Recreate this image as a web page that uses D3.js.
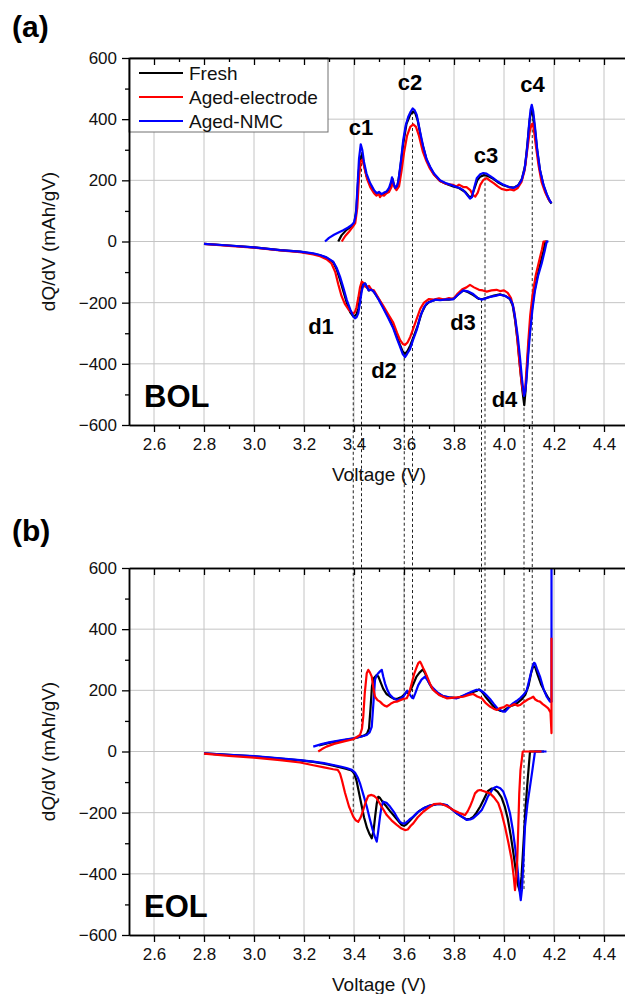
<!DOCTYPE html>
<html>
<head>
<meta charset="utf-8">
<script src="https://cdn.jsdelivr.net/npm/d3@7"></script>
<style>
  html, body { margin: 0; padding: 0; background: #fff; }
  svg { display: block; font-family: "Liberation Sans", Arial, Helvetica, sans-serif; }
</style>
</head>
<body>
<svg id="chart" width="625" height="994"></svg>
<script>
// ---- series names and colours ----
const seriesNames = ["Fresh", "Aged-electrode", "Aged-NMC"];
const seriesColors = ["#000000", "#ff0000", "#0000ff"];

// ---- axis ticks ----
const voltDomain = [2.5, 4.5];
const voltMajorTicks = [2.6, 2.8, 3.0, 3.2, 3.4, 3.6, 3.8, 4.0, 4.2, 4.4];
const voltMinorTicks = [2.7, 2.9, 3.1, 3.3, 3.5, 3.7, 3.9, 4.1, 4.3];
const dqDomain = [-600, 600];
const dqMajorTicks = [-600, -400, -200, 0, 200, 400, 600];
const dqMinorTicks = [-500, -300, -100, 100, 300, 500];

// ---- BOL: charge branch [V, dQ/dV] ----
const bolFreshCharge = [[3.337,0],[3.35,20],[3.37,38],[3.39,50],[3.402,62],[3.41,110],[3.418,220],[3.425,275],[3.432,282],[3.44,250],[3.45,215],[3.464,188],[3.48,165],[3.491,157],[3.51,153],[3.53,160],[3.54,170],[3.549,190],[3.554,205],[3.56,185],[3.567,172],[3.575,185],[3.585,240],[3.597,320],[3.61,385],[3.625,415],[3.636,425],[3.645,420],[3.655,395],[3.67,330],[3.69,268],[3.704,243],[3.72,220],[3.744,198],[3.77,188],[3.797,180],[3.82,175],[3.845,162],[3.86,147],[3.87,145],[3.88,170],[3.893,200],[3.905,212],[3.92,217],[3.935,214],[3.957,205],[3.975,194],[3.997,184],[4.02,178],[4.04,176],[4.058,185],[4.072,205],[4.085,250],[4.095,330],[4.103,400],[4.11,430],[4.116,415],[4.124,365],[4.133,295],[4.144,232],[4.158,183],[4.171,153],[4.182,133],[4.19,124]];
const bolElectrodeCharge = [[3.351,0],[3.365,18],[3.38,32],[3.395,48],[3.405,60],[3.413,110],[3.42,210],[3.427,262],[3.434,268],[3.442,240],[3.452,205],[3.465,178],[3.48,158],[3.49,150],[3.5,155],[3.504,145],[3.51,152],[3.52,150],[3.53,158],[3.54,162],[3.55,178],[3.556,195],[3.562,178],[3.57,168],[3.58,180],[3.59,230],[3.6,290],[3.612,345],[3.625,375],[3.637,383],[3.648,375],[3.66,345],[3.675,295],[3.69,262],[3.704,238],[3.72,218],[3.744,198],[3.77,188],[3.797,185],[3.81,180],[3.82,186],[3.837,178],[3.85,178],[3.865,168],[3.875,152],[3.885,147],[3.895,160],[3.905,185],[3.918,202],[3.931,207],[3.945,198],[3.96,190],[3.975,180],[3.99,172],[4.01,168],[4.025,170],[4.04,167],[4.055,175],[4.07,195],[4.083,235],[4.093,300],[4.103,360],[4.11,383],[4.115,386],[4.12,362],[4.128,310],[4.138,250],[4.15,195],[4.165,160],[4.178,138],[4.188,128]];
const bolNmcCharge = [[3.284,0],[3.3,12],[3.32,22],[3.34,30],[3.357,37],[3.375,45],[3.39,53],[3.4,62],[3.408,90],[3.414,180],[3.42,270],[3.427,318],[3.433,300],[3.44,260],[3.45,222],[3.464,192],[3.48,168],[3.491,158],[3.5,162],[3.51,155],[3.52,160],[3.53,163],[3.54,175],[3.548,195],[3.552,210],[3.558,190],[3.565,175],[3.572,182],[3.578,200],[3.588,265],[3.597,332],[3.607,380],[3.617,408],[3.627,425],[3.635,435],[3.642,430],[3.651,414],[3.664,360],[3.677,310],[3.69,270],[3.704,245],[3.72,222],[3.744,200],[3.77,190],[3.797,182],[3.82,176],[3.837,168],[3.85,155],[3.864,140],[3.872,145],[3.882,180],[3.891,207],[3.905,220],[3.917,224],[3.93,222],[3.945,214],[3.957,207],[3.975,196],[3.997,186],[4.015,180],[4.037,175],[4.055,182],[4.07,200],[4.082,235],[4.092,300],[4.1,380],[4.106,430],[4.111,447],[4.117,425],[4.124,375],[4.133,300],[4.144,234],[4.158,185],[4.171,155],[4.182,135],[4.19,125]];

// ---- BOL: discharge branch ----
const bolFreshDischarge = [[2.8,-8],[2.9,-13],[3.0,-19],[3.104,-28],[3.184,-33],[3.237,-40],[3.264,-45],[3.29,-53],[3.317,-68],[3.33,-90],[3.344,-125],[3.357,-162],[3.371,-200],[3.385,-232],[3.397,-245],[3.404,-243],[3.41,-238],[3.417,-220],[3.424,-185],[3.431,-155],[3.438,-138],[3.445,-138],[3.452,-150],[3.46,-160],[3.47,-157],[3.48,-165],[3.5,-190],[3.517,-215],[3.537,-245],[3.557,-280],[3.572,-312],[3.584,-338],[3.595,-360],[3.604,-368],[3.614,-358],[3.625,-340],[3.64,-308],[3.655,-275],[3.67,-235],[3.685,-210],[3.7,-198],[3.727,-190],[3.75,-190],[3.78,-190],[3.8,-186],[3.817,-173],[3.837,-160],[3.855,-165],[3.877,-175],[3.9,-188],[3.915,-188],[3.935,-183],[3.955,-178],[3.984,-173],[4.005,-178],[4.024,-188],[4.035,-210],[4.044,-255],[4.055,-330],[4.064,-410],[4.074,-490],[4.081,-535],[4.087,-480],[4.093,-400],[4.1,-320],[4.11,-235],[4.12,-170],[4.133,-115],[4.146,-70],[4.158,-30],[4.165,0],[4.175,0]];
const bolElectrodeDischarge = [[2.8,-8],[2.9,-14],[3.0,-20],[3.104,-29],[3.184,-35],[3.237,-42],[3.264,-48],[3.29,-58],[3.31,-72],[3.325,-100],[3.337,-140],[3.35,-178],[3.364,-205],[3.378,-222],[3.39,-232],[3.397,-236],[3.404,-230],[3.41,-215],[3.417,-185],[3.424,-150],[3.431,-131],[3.437,-135],[3.445,-148],[3.452,-150],[3.46,-145],[3.47,-158],[3.48,-160],[3.5,-188],[3.517,-210],[3.537,-238],[3.557,-265],[3.572,-298],[3.584,-322],[3.595,-335],[3.604,-338],[3.614,-330],[3.625,-312],[3.637,-285],[3.65,-255],[3.665,-220],[3.68,-200],[3.7,-188],[3.72,-190],[3.74,-186],[3.76,-190],[3.78,-185],[3.797,-188],[3.815,-170],[3.835,-155],[3.85,-150],[3.864,-142],[3.88,-150],[3.9,-158],[3.915,-160],[3.931,-164],[3.95,-160],[3.97,-158],[3.984,-162],[4.0,-160],[4.015,-168],[4.028,-185],[4.04,-225],[4.05,-290],[4.06,-380],[4.07,-460],[4.078,-500],[4.084,-490],[4.09,-420],[4.097,-330],[4.105,-240],[4.115,-170],[4.127,-110],[4.14,-65],[4.152,-25],[4.158,0],[4.17,0]];
const bolNmcDischarge = [[2.8,-8],[2.9,-13],[3.0,-19],[3.104,-28],[3.184,-33],[3.237,-39],[3.264,-44],[3.29,-52],[3.317,-66],[3.33,-85],[3.344,-115],[3.357,-150],[3.371,-191],[3.385,-222],[3.397,-245],[3.404,-251],[3.41,-248],[3.417,-235],[3.424,-200],[3.431,-162],[3.438,-140],[3.444,-137],[3.452,-148],[3.458,-160],[3.464,-158],[3.47,-158],[3.477,-162],[3.484,-170],[3.5,-192],[3.517,-218],[3.537,-250],[3.557,-284],[3.572,-318],[3.584,-344],[3.595,-368],[3.604,-378],[3.612,-368],[3.624,-352],[3.637,-320],[3.651,-289],[3.665,-245],[3.68,-215],[3.691,-202],[3.71,-195],[3.727,-190],[3.744,-192],[3.77,-189],[3.797,-189],[3.815,-175],[3.837,-160],[3.855,-163],[3.877,-172],[3.895,-185],[3.911,-190],[3.93,-185],[3.944,-181],[3.965,-178],[3.984,-174],[4.005,-178],[4.024,-187],[4.035,-205],[4.044,-246],[4.055,-310],[4.064,-380],[4.072,-450],[4.08,-505],[4.085,-490],[4.091,-440],[4.097,-370],[4.104,-300],[4.114,-220],[4.124,-160],[4.137,-110],[4.151,-71],[4.163,-30],[4.171,0],[4.178,0]];

// ---- EOL: charge branch ----
const eolFreshCharge = [[3.26,20],[3.3,28],[3.34,34],[3.38,40],[3.41,45],[3.44,52],[3.452,58],[3.46,75],[3.466,140],[3.472,215],[3.48,240],[3.491,250],[3.498,244],[3.507,225],[3.517,205],[3.53,188],[3.544,180],[3.56,172],[3.575,173],[3.59,178],[3.6,185],[3.61,195],[3.618,190],[3.626,200],[3.637,220],[3.65,245],[3.662,258],[3.675,268],[3.685,255],[3.697,230],[3.712,207],[3.73,193],[3.757,180],[3.78,177],[3.811,175],[3.84,183],[3.87,193],[3.89,198],[3.9,203],[3.912,195],[3.925,180],[3.94,165],[3.955,150],[3.97,140],[3.985,133],[3.997,132],[4.01,140],[4.025,148],[4.04,152],[4.055,160],[4.07,170],[4.085,185],[4.098,215],[4.108,255],[4.117,280],[4.125,275],[4.135,250],[4.148,220],[4.163,195],[4.177,175],[4.19,162]];
const eolElectrodeCharge = [[3.257,0],[3.272,8],[3.29,16],[3.32,25],[3.36,33],[3.397,40],[3.424,54],[3.432,75],[3.437,114],[3.443,190],[3.451,256],[3.457,267],[3.464,258],[3.471,245],[3.477,210],[3.484,179],[3.494,168],[3.504,163],[3.514,155],[3.522,150],[3.531,147],[3.54,152],[3.55,158],[3.56,162],[3.571,163],[3.585,168],[3.598,172],[3.611,174],[3.62,190],[3.631,223],[3.641,255],[3.651,277],[3.658,290],[3.664,294],[3.67,285],[3.677,272],[3.684,261],[3.695,240],[3.706,218],[3.717,201],[3.74,185],[3.771,174],[3.8,176],[3.837,179],[3.86,185],[3.877,188],[3.893,180],[3.911,174],[3.925,160],[3.944,147],[3.958,140],[3.971,136],[3.985,142],[4.0,145],[4.011,152],[4.025,148],[4.04,155],[4.055,150],[4.064,152],[4.08,162],[4.095,170],[4.108,175],[4.117,179],[4.125,170],[4.135,165],[4.144,163],[4.155,155],[4.166,148],[4.177,141],[4.186,128],[4.19,60],[4.19,372]];
const eolNmcCharge = [[3.237,16],[3.27,24],[3.3,30],[3.34,36],[3.37,40],[3.397,43],[3.43,49],[3.451,54],[3.462,62],[3.471,81],[3.477,150],[3.484,234],[3.49,248],[3.497,256],[3.504,262],[3.511,267],[3.517,245],[3.524,223],[3.534,200],[3.544,185],[3.557,175],[3.571,168],[3.585,172],[3.597,179],[3.606,190],[3.613,199],[3.619,192],[3.624,185],[3.632,176],[3.637,174],[3.645,190],[3.657,217],[3.67,235],[3.684,245],[3.695,232],[3.705,217],[3.717,207],[3.735,192],[3.757,181],[3.78,177],[3.811,174],[3.83,180],[3.85,188],[3.877,198],[3.89,202],[3.904,201],[3.92,192],[3.932,182],[3.944,172],[3.96,155],[3.975,140],[3.984,136],[3.995,131],[4.004,130],[4.015,140],[4.025,150],[4.037,158],[4.05,165],[4.065,175],[4.078,185],[4.091,200],[4.103,240],[4.113,275],[4.12,290],[4.124,288],[4.132,270],[4.144,245],[4.158,205],[4.171,179],[4.184,163],[4.19,163],[4.19,660]];

// ---- EOL: discharge branch ----
const eolFreshDischarge = [[2.8,-6],[2.9,-11],[3.0,-16],[3.104,-23],[3.184,-29],[3.237,-34],[3.28,-40],[3.317,-46],[3.35,-53],[3.37,-57],[3.39,-62],[3.4,-70],[3.41,-95],[3.42,-135],[3.43,-175],[3.44,-215],[3.452,-250],[3.462,-270],[3.471,-284],[3.478,-260],[3.485,-210],[3.491,-170],[3.497,-148],[3.504,-152],[3.517,-168],[3.53,-180],[3.544,-195],[3.56,-210],[3.575,-225],[3.59,-240],[3.6,-243],[3.61,-238],[3.625,-225],[3.64,-212],[3.66,-195],[3.68,-185],[3.7,-178],[3.731,-172],[3.75,-172],[3.771,-176],[3.79,-188],[3.811,-202],[3.83,-213],[3.851,-222],[3.865,-220],[3.877,-214],[3.89,-200],[3.905,-180],[3.92,-155],[3.935,-130],[3.951,-121],[3.962,-123],[3.975,-132],[3.99,-150],[4.003,-180],[4.015,-220],[4.027,-275],[4.038,-335],[4.048,-395],[4.057,-440],[4.064,-458],[4.07,-410],[4.078,-300],[4.085,-200],[4.092,-120],[4.098,-60],[4.104,0],[4.16,0]];
const eolElectrodeDischarge = [[2.8,-7],[2.9,-14],[3.0,-20],[3.104,-28],[3.184,-36],[3.237,-45],[3.28,-52],[3.317,-58],[3.335,-60],[3.344,-72],[3.352,-95],[3.364,-135],[3.38,-180],[3.397,-213],[3.407,-225],[3.417,-230],[3.427,-215],[3.437,-191],[3.447,-165],[3.457,-145],[3.47,-142],[3.48,-145],[3.491,-153],[3.51,-180],[3.531,-208],[3.55,-225],[3.571,-240],[3.59,-252],[3.604,-257],[3.615,-255],[3.627,-243],[3.637,-235],[3.655,-215],[3.677,-197],[3.7,-183],[3.72,-172],[3.745,-170],[3.77,-178],[3.797,-191],[3.82,-200],[3.844,-208],[3.855,-195],[3.864,-180],[3.874,-160],[3.884,-137],[3.895,-128],[3.904,-126],[3.92,-130],[3.944,-137],[3.96,-150],[3.977,-169],[3.99,-200],[4.004,-246],[4.018,-300],[4.031,-355],[4.039,-410],[4.044,-453],[4.049,-410],[4.053,-355],[4.057,-250],[4.061,-137],[4.066,-60],[4.071,-28],[4.075,0],[4.15,0]];
const eolNmcDischarge = [[2.8,-6],[2.9,-11],[3.0,-15],[3.104,-22],[3.184,-28],[3.237,-33],[3.28,-38],[3.317,-44],[3.35,-50],[3.37,-54],[3.391,-60],[3.405,-70],[3.415,-85],[3.424,-104],[3.437,-140],[3.451,-180],[3.463,-220],[3.475,-257],[3.484,-280],[3.491,-295],[3.497,-260],[3.504,-213],[3.51,-180],[3.517,-164],[3.53,-168],[3.544,-180],[3.56,-198],[3.572,-215],[3.584,-230],[3.594,-235],[3.604,-235],[3.615,-228],[3.625,-220],[3.637,-213],[3.655,-198],[3.677,-186],[3.7,-178],[3.731,-172],[3.75,-172],[3.771,-175],[3.79,-188],[3.811,-202],[3.83,-212],[3.851,-224],[3.865,-222],[3.877,-218],[3.895,-205],[3.911,-191],[3.925,-168],[3.935,-148],[3.944,-137],[3.955,-122],[3.965,-117],[3.971,-115],[3.985,-120],[3.997,-131],[4.01,-160],[4.024,-202],[4.035,-255],[4.044,-311],[4.052,-365],[4.057,-409],[4.063,-460],[4.067,-486],[4.072,-450],[4.077,-370],[4.084,-246],[4.094,-170],[4.104,-115],[4.112,-70],[4.118,-35],[4.124,0],[4.17,0]];

// ---- peak markers: voltage, BOL value where the guide starts, EOL value where it ends ----
const peakNames = ["c1", "c2", "c3", "c4", "d1", "d2", "d3", "d4"];
const peakVoltages = [3.43, 3.634, 3.924, 4.113, 3.397, 3.601, 3.91, 4.08];
const peakBolValues = [292, 425, 210, 420, -238, -380, -190, -525];
const peakEolValues = [50, 178, 198, 280, -205, -240, -126, -458];
// label anchor for each peak name (V, dQ/dV on BOL panel)
const peakLabelVoltages = [3.428, 3.624, 3.928, 4.114, 3.268, 3.52, 3.836, 4.002];
const peakLabelValues = [348, 494, 257, 488, -304, -447, -289, -541];

// ---- geometry ----
const svg = d3.select("#chart");
const plotLeft = 129, plotRight = 629;
const panels = [
  { key: "a", top: 58, bottom: 425, tag: "(a)", tagY: 37, stage: "BOL",
    charge: [bolFreshCharge, bolElectrodeCharge, bolNmcCharge],
    discharge: [bolFreshDischarge, bolElectrodeDischarge, bolNmcDischarge],
    order: [0, 1, 2] },
  { key: "b", top: 568, bottom: 935, tag: "(b)", tagY: 541, stage: "EOL",
    charge: [eolFreshCharge, eolElectrodeCharge, eolNmcCharge],
    discharge: [eolFreshDischarge, eolElectrodeDischarge, eolNmcDischarge],
    order: [0, 2, 1] }
];

const x = d3.scaleLinear().domain(voltDomain).range([plotLeft, plotRight]);
panels.forEach(p => {
  p.y = d3.scaleLinear().domain(dqDomain).range([p.bottom, p.top]);
});

const fmtV = d3.format(".1f");
const fmtDq = d => d < 0 ? "\u2212" + Math.abs(d) : String(d);
const line = y => d3.line().x(d => x(d[0])).y(d => y(d[1]));

// grid and clip areas
panels.forEach(p => {
  const g = svg.append("g").attr("class", "grid-" + p.key);
  g.selectAll("line.v").data(voltMajorTicks).join("line")
    .attr("x1", d => x(d)).attr("x2", d => x(d))
    .attr("y1", p.top).attr("y2", p.bottom)
    .attr("stroke", "#c4c4c4").attr("stroke-width", 1);
  g.selectAll("line.h").data(dqMajorTicks.filter(d => d > dqDomain[0] && d < dqDomain[1])).join("line")
    .attr("x1", plotLeft).attr("x2", plotRight)
    .attr("y1", d => p.y(d)).attr("y2", d => p.y(d))
    .attr("stroke", "#c4c4c4").attr("stroke-width", 1);

  svg.append("clipPath").attr("id", "clip-" + p.key)
    .append("rect").attr("x", plotLeft).attr("y", p.top)
    .attr("width", plotRight - plotLeft).attr("height", p.bottom - p.top);
});

// legend (panel a)
const pa = panels[0];
const lg = svg.append("g").attr("class", "legend");
lg.append("rect").attr("x", plotLeft).attr("y", pa.top)
  .attr("width", 199).attr("height", 74)
  .attr("fill", "#fff").attr("stroke", "#707070").attr("stroke-width", 1);
seriesNames.forEach((name, i) => {
  const ly = 73 + i * 24;
  lg.append("line").attr("x1", 139).attr("x2", 183).attr("y1", ly).attr("y2", ly)
    .attr("stroke", seriesColors[i]).attr("stroke-width", 2.2);
  lg.append("text").attr("x", 189).attr("y", ly).attr("dy", "0.35em")
    .attr("font-size", 19).attr("fill", "#111").text(name);
});

// dashed guides linking BOL peaks to EOL peaks
const guides = svg.append("g").attr("class", "guides");
peakVoltages.forEach((v, i) => {
  guides.append("line")
    .attr("x1", x(v)).attr("x2", x(v))
    .attr("y1", panels[0].y(peakBolValues[i]))
    .attr("y2", panels[1].y(peakEolValues[i]))
    .attr("stroke", "#222").attr("stroke-width", 1)
    .attr("stroke-dasharray", "3,2.5");
});

// curves
panels.forEach(p => {
  const g = svg.append("g").attr("clip-path", "url(#clip-" + p.key + ")");
  p.order.forEach(i => {
    [p.charge[i], p.discharge[i]].forEach(data => {
      g.append("path").datum(data)
        .attr("d", line(p.y))
        .attr("fill", "none")
        .attr("stroke", seriesColors[i])
        .attr("stroke-width", 2.2)
        .attr("stroke-linejoin", "round");
    });
  });
});

// axes and texts
panels.forEach(p => {
  const styleAxis = sel => {
    sel.selectAll(".domain").attr("stroke", "#000").attr("stroke-width", 1.5);
    sel.selectAll(".tick line").attr("stroke", "#000").attr("stroke-width", 1.3);
    sel.selectAll("text").attr("font-size", 17).attr("fill", "#111")
      .attr("font-family", "'Liberation Sans', Arial, Helvetica, sans-serif");
  };
  // bottom
  svg.append("g").attr("transform", `translate(0,${p.bottom})`)
    .call(d3.axisBottom(x).tickValues(voltMajorTicks).tickFormat(fmtV).tickSize(7).tickSizeOuter(0).tickPadding(6))
    .call(styleAxis);
  svg.append("g").attr("transform", `translate(0,${p.bottom})`)
    .call(d3.axisBottom(x).tickValues(voltMinorTicks).tickFormat("").tickSize(4).tickSizeOuter(0))
    .call(styleAxis);
  // top (inward ticks)
  svg.append("g").attr("transform", `translate(0,${p.top})`)
    .call(d3.axisTop(x).tickValues(voltMajorTicks).tickFormat("").tickSize(-7).tickSizeOuter(0))
    .call(styleAxis);
  svg.append("g").attr("transform", `translate(0,${p.top})`)
    .call(d3.axisTop(x).tickValues(voltMinorTicks).tickFormat("").tickSize(-4).tickSizeOuter(0))
    .call(styleAxis);
  // left
  svg.append("g").attr("transform", `translate(${plotLeft},0)`)
    .call(d3.axisLeft(p.y).tickValues(dqMajorTicks).tickFormat(fmtDq).tickSize(7).tickSizeOuter(0).tickPadding(5))
    .call(styleAxis);
  svg.append("g").attr("transform", `translate(${plotLeft},0)`)
    .call(d3.axisLeft(p.y).tickValues(dqMinorTicks).tickFormat("").tickSize(4).tickSizeOuter(0))
    .call(styleAxis);

  // axis titles
  svg.append("text").attr("x", (plotLeft + plotRight) / 2).attr("y", p.bottom + 56)
    .attr("text-anchor", "middle").attr("font-size", 19).attr("fill", "#111")
    .text("Voltage (V)");
  svg.append("text")
    .attr("transform", `translate(55,${(p.top + p.bottom) / 2}) rotate(-90)`)
    .attr("text-anchor", "middle").attr("font-size", 19).attr("fill", "#111")
    .text("dQ/dV (mAh/gV)");

  // panel tag and stage label
  svg.append("text").attr("x", 12).attr("y", p.tagY)
    .attr("font-size", 30).attr("font-weight", "bold").attr("fill", "#000").text(p.tag);
  svg.append("text").attr("x", 144).attr("y", p.bottom - 18)
    .attr("font-size", 31).attr("font-weight", "bold").attr("fill", "#000").text(p.stage);
});

// peak names on BOL panel
peakNames.forEach((n, i) => {
  svg.append("text")
    .attr("x", x(peakLabelVoltages[i])).attr("y", panels[0].y(peakLabelValues[i]))
    .attr("text-anchor", "middle").attr("font-size", 22).attr("font-weight", "bold")
    .attr("fill", "#000").text(n);
});
</script>
</body>
</html>
